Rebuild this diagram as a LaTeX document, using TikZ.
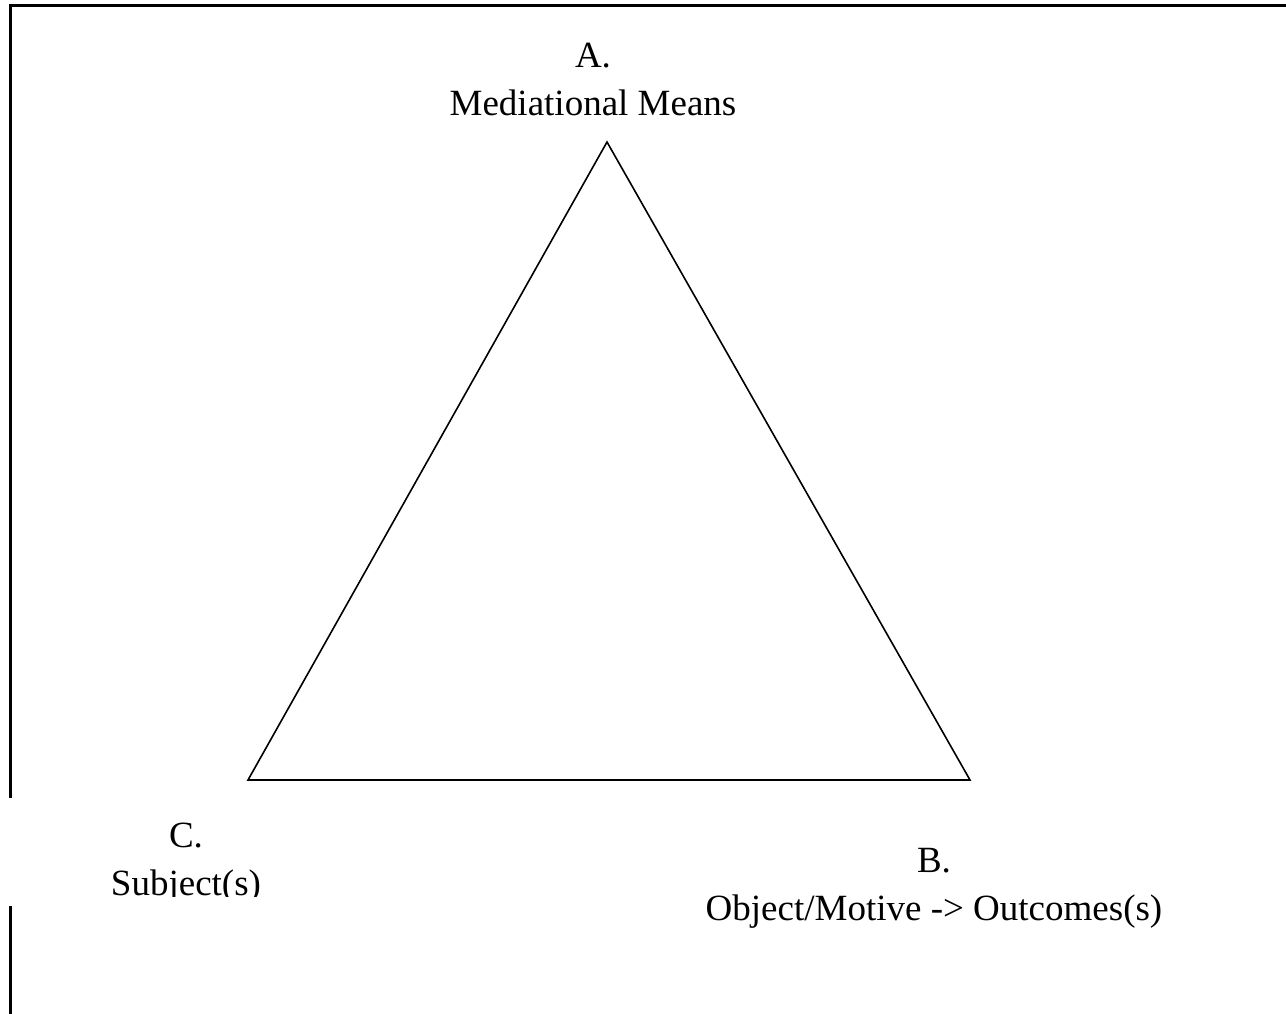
\documentclass[tikz,border=0pt]{standalone}
\usepackage{fontspec}
\setmainfont{Liberation Serif}
\usepackage{tikz}
\usetikzlibrary{positioning, calc}
\usepackage{xcolor}
\definecolor{actInk}{HTML}{000000}

\begin{document}
\begin{tikzpicture}[
        x=1pt, y=-1pt,
        font=\fontsize{37}{48}\selectfont,
        corner/.style={
          inner sep=0pt, anchor=north, align=center, text=actInk
        },
        side/.style={line width=1.6pt, draw=actInk, line join=miter},
        frameLine/.style={line width=3pt, draw=actInk}
      ]
      \useasboundingbox (0,0) rectangle (1286,1014);

      % --- MARCO ---
      \coordinate (frameTL) at (10.5,5.5);
      \coordinate (frameTR) at (1286,5.5);
      \coordinate (gapTop) at (10.5,798);
      \coordinate (gapBottom) at (10.5,906);
      \coordinate (frameBL) at (10.5,1014);
      \draw[frameLine] (frameTR) -- (frameTL) -- (gapTop);
      \draw[frameLine] (gapBottom) -- (frameBL);

      % --- TRIANGULO ---
      \coordinate (apexA) at (607,142);
      \coordinate (cornerB) at (970,780);
      \coordinate (cornerC) at (248,780);
      \draw[side] (apexA) -- (cornerB) -- (cornerC) -- cycle;

      % --- ETIQUETAS ---
      \node[corner] (labelA) at (593,42.5) {A.\\Mediational Means};
      \node[corner] (labelB) at (934,848) {B.\\Object/Motive -> Outcomes(s)};
      \begin{scope}
        \clip (0,0) rectangle (1286,896);
        \node[corner] (labelC) at (186,822.5) {C.\\Subject(s)};
      \end{scope}

    \end{tikzpicture}
\end{document}
